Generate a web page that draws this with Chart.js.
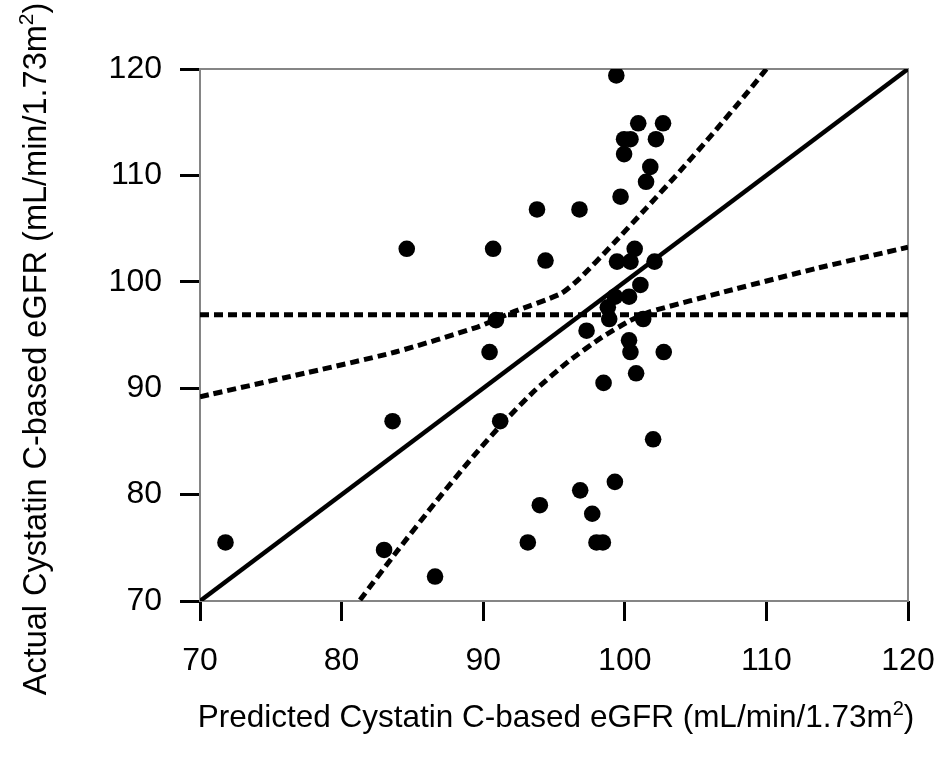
<!DOCTYPE html>
<html>
<head>
<meta charset="utf-8">
<title>Predicted vs actual cystatin C eGFR</title>
<script src="https://cdn.jsdelivr.net/npm/chart.js@4.4.1/dist/chart.umd.min.js"></script>
<style>
  body { margin: 0; background: #fff; }
  canvas { display: block; }
</style>
</head>
<body>
<canvas id="myChart" width="941" height="762"></canvas>
<script>
// values
const predicted = [71.8, 83.0, 83.6, 84.6, 86.6, 90.45, 90.7, 90.9, 91.2, 93.15, 93.8, 94.0, 94.4, 96.85, 96.8, 97.3,
  97.7, 98.0, 98.45, 98.5, 98.8, 98.9, 99.3, 99.3, 99.45, 99.4, 99.7, 99.95, 99.95, 100.3, 100.3, 100.4, 100.4,
  100.4, 100.7, 100.8, 100.95, 101.1, 101.3, 101.5, 101.8, 102.0, 102.1, 102.2, 102.7, 102.75]
const actual = [75.5, 74.8, 86.9, 103.1, 72.3, 93.4, 103.1, 96.4, 86.9, 75.5, 106.8, 79.0, 102.0, 80.4, 106.8, 95.4,
  78.2, 75.5, 75.5, 90.5, 97.6, 96.5, 81.2, 98.6, 101.9, 119.4, 108.0, 113.4, 112.0, 98.6, 94.5, 101.9, 113.4,
  93.4, 103.1, 91.4, 114.9, 99.7, 96.5, 109.4, 110.8, 85.2, 101.9, 113.4, 114.9, 93.4]

const upperBandX = [70, 76.7, 83.8, 89.6, 92.0, 95.5, 96.8, 99.2, 101.5, 103.9, 106.2, 108.6, 110]
const upperBandY = [89.2, 91.2, 93.4, 95.75, 97.1, 98.9, 100.3, 103.6, 106.9, 110.4, 113.9, 117.7, 120]
const lowerBandX = [81.3, 83.9, 86.7, 89.3, 91.4, 93.7, 96.1, 98.4, 100.3, 101.7, 107.6, 113.5, 120]
const lowerBandY = [70.1, 74.65, 79.4, 83.6, 86.75, 89.85, 92.6, 94.8, 96.3, 97.15, 99.25, 101.25, 103.25]

const meanActual = 96.9
const axisMin = 70
const axisMax = 120
const tickStep = 10

const xTitle = 'Predicted Cystatin C-based eGFR (mL/min/1.73m'
const yTitle = 'Actual Cystatin C-based eGFR (mL/min/1.73m'

const toPoints = (xs, ys) => xs.map((x, i) => ({ x: x, y: ys[i] }))

// grey box round the plot + the two axis titles with a real superscript
const frame = {
  id: 'frame',
  beforeDatasetsDraw(chart) {
    const a = chart.chartArea
    const ctx = chart.ctx
    ctx.save()
    ctx.strokeStyle = '#858585'
    ctx.lineWidth = 2
    ctx.strokeRect(a.left, a.top, a.right - a.left, a.bottom - a.top)
    ctx.restore()
  },
  afterDraw(chart) {
    const ctx = chart.ctx
    drawTitle(ctx, xTitle, 31.5, 556, 716, 0)
    drawTitle(ctx, yTitle, 32.5, 34, 349, -Math.PI / 2)
  }
}

function drawTitle(ctx, text, size, cx, cy, rot) {
  const fam = 'px "Liberation Sans", Arial, sans-serif'
  const big = size + fam
  const small = Math.round(size * 0.64) + fam
  ctx.save()
  ctx.translate(cx, cy)
  ctx.rotate(rot)
  ctx.fillStyle = '#000'
  ctx.textBaseline = 'alphabetic'
  ctx.textAlign = 'left'
  ctx.font = big
  const w1 = ctx.measureText(text).width
  const w3 = ctx.measureText(')').width
  ctx.font = small
  const w2 = ctx.measureText('2').width
  const base = size * 0.36
  let x = -(w1 + w2 + w3) / 2
  ctx.font = big
  ctx.fillText(text, x, base)
  x += w1
  ctx.font = small
  ctx.fillText('2', x, base - size * 0.38)
  x += w2
  ctx.font = big
  ctx.fillText(')', x, base)
  ctx.restore()
}

const axisStyle = {
  type: 'linear',
  min: axisMin,
  max: axisMax,
  ticks: {
    stepSize: tickStep,
    color: '#000',
    font: { family: '"Liberation Sans", Arial, sans-serif', size: 32 }
  },
  grid: {
    drawOnChartArea: false,
    drawTicks: true,
    tickLength: 20,
    tickWidth: 3,
    tickColor: '#000',
    lineWidth: 3
  },
  border: { display: false }
}

const dashed = { borderColor: '#000', borderWidth: 5, borderDash: [9, 5], pointRadius: 0, fill: false, order: 1 }

new Chart('myChart', {
  type: 'scatter',
  data: {
    datasets: [{
      label: 'patients',
      data: toPoints(predicted, actual),
      backgroundColor: '#000',
      borderWidth: 0,
      pointRadius: 8.3,
      order: 0
    }, {
      label: 'identity',
      type: 'line',
      data: [{ x: axisMin, y: axisMin }, { x: axisMax, y: axisMax }],
      borderColor: '#000',
      borderWidth: 4.5,
      pointRadius: 0,
      fill: false,
      order: 1
    }, Object.assign({
      label: 'mean',
      type: 'line',
      data: [{ x: axisMin, y: meanActual }, { x: axisMax, y: meanActual }]
    }, dashed), Object.assign({
      label: 'upper 95% CI',
      type: 'line',
      data: toPoints(upperBandX, upperBandY),
      tension: 0.2
    }, dashed), Object.assign({
      label: 'lower 95% CI',
      type: 'line',
      data: toPoints(lowerBandX, lowerBandY),
      tension: 0.2
    }, dashed)]
  },
  options: {
    responsive: false,
    animation: false,
    layout: { padding: { top: 69, right: 33, left: 0, bottom: 0 } },
    plugins: {
      legend: { display: false },
      tooltip: { enabled: false }
    },
    scales: {
      x: Object.assign({}, axisStyle, {
        position: 'bottom',
        ticks: Object.assign({}, axisStyle.ticks, { padding: 21 }),
        afterFit: (s) => { s.height = 161; s.paddingLeft = 0; s.paddingRight = 0 }
      }),
      y: Object.assign({}, axisStyle, {
        position: 'left',
        ticks: Object.assign({}, axisStyle.ticks, { padding: 18 }),
        afterFit: (s) => { s.width = 200; s.paddingTop = 0; s.paddingBottom = 0 }
      })
    }
  },
  plugins: [frame]
});
</script>
</body>
</html>
